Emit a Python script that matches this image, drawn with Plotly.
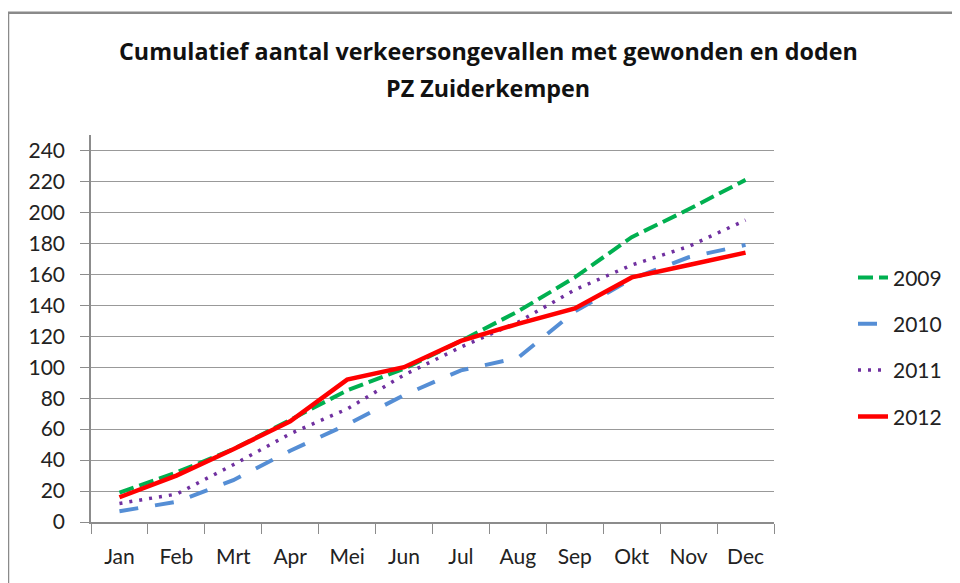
import plotly.graph_objects as go

months = ["Jan", "Feb", "Mrt", "Apr", "Mei", "Jun", "Jul", "Aug", "Sep", "Okt", "Nov", "Dec"]
y2009 = [19, 32, 47, 66, 85, 99, 117, 136, 158, 184, 202, 221]
y2010 = [7, 13, 27, 46, 63, 82, 98, 106, 136, 157, 171, 179]
y2011 = [12, 18, 37, 57, 73, 95, 113, 129, 150, 166, 178, 195]
y2012 = [16, 30, 47, 65, 92, 100, 117, 128, 138, 158, 166, 174]
y_ticks = list(range(0, 241, 20))
title_lines = ["Cumulatief aantal verkeersongevallen met gewonden en doden", "PZ Zuiderkempen"]

FONT = "Lato"
TFONT = "Open Sans"
OFF = 8  # default page body margin
W, H = 960 - OFF, 583 - OFF
# plot area in screen pixels, converted to figure pixels
L, R, T, B = 91 - OFF, 774 - OFF, 134.5 - OFF, 522 - OFF
pw, ph = R - L, B - T


def px(x):
    return (x - OFF - L) / pw


def py(y):
    return (B - (y - OFF)) / ph


fig = go.Figure()
series = [
    ("2009", y2009, "#00B050", 4, "15px,6px"),
    ("2010", y2010, "#558ED5", 4, "19px,17px"),
    ("2011", y2011, "#7030A0", 3.5, "3px,7px"),
    ("2012", y2012, "#FF0000", 4.5, "solid"),
]
for name, ys, col, w, dash in series:
    fig.add_trace(go.Scatter(x=months, y=ys, name=name, mode="lines",
                             legendgroup=name,
                             line=dict(color=col, width=w, dash=dash)))

fig.update_layout(
    width=W, height=H,
    margin=dict(l=L, r=W - R, t=T, b=H - B, pad=0, autoexpand=False),
    paper_bgcolor="white", plot_bgcolor="white",
    font=dict(family=FONT, size=21, color="#222"),
    showlegend=True,
    legend=dict(x=px(853), xanchor="left", y=py(257), yanchor="top",
                tracegroupgap=16, font=dict(size=21), itemwidth=30,
                bgcolor="rgba(0,0,0,0)"),
    xaxis=dict(type="category", range=[-0.5, 11.5], showline=True, linecolor="#8C8C8C",
               linewidth=1.5, ticks="outside", ticklen=10, tickcolor="#8C8C8C",
               tickson="boundaries", showgrid=False, ticklabelstandoff=15,
               tickfont=dict(size=21), automargin=False),
    yaxis=dict(range=[0, 250], tickvals=y_ticks, showline=True, linecolor="#8C8C8C",
               linewidth=1.5, ticks="outside", ticklen=9, tickcolor="#8C8C8C",
               gridcolor="#999999", gridwidth=1.2, zeroline=False,
               ticklabelstandoff=11, tickfont=dict(size=21), automargin=False),
)

# two-line chart title
for txt, ypix in zip(title_lines, [50, 87]):
    fig.add_annotation(text=f"<b>{txt}</b>", xref="paper", yref="paper",
                       x=px(488), y=py(ypix), xanchor="center", yanchor="middle",
                       showarrow=False, font=dict(family=TFONT, size=23.3, color="#111"))

# outer chart frame (partly cropped in the reference)
fig.add_shape(type="rect", xref="paper", yref="paper",
              x0=px(8), x1=px(1000), y0=py(620), y1=py(12),
              line=dict(color="#8A8A8A", width=2.5), fillcolor="rgba(0,0,0,0)", layer="below")

fig.write_html("out.html")
